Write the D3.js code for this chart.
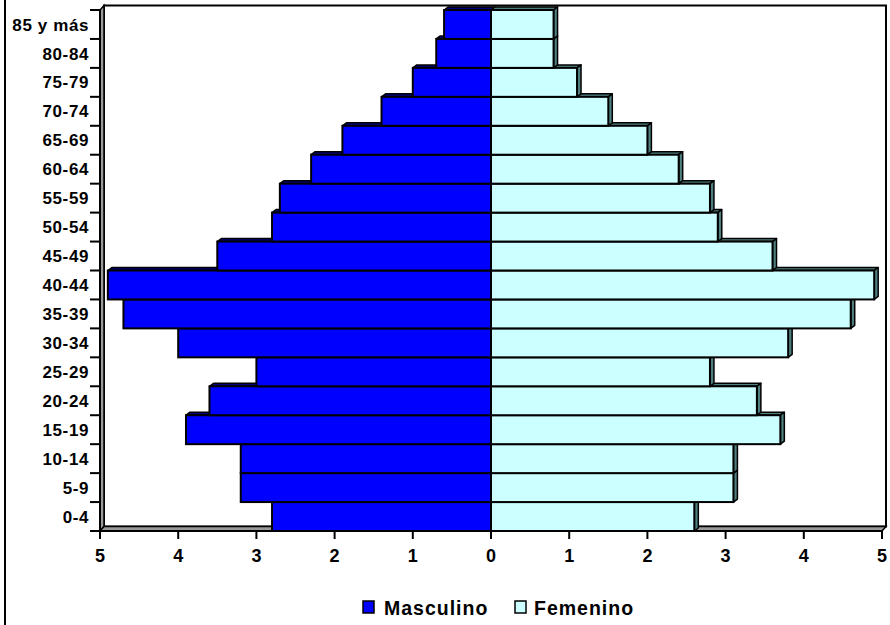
<!DOCTYPE html>
<html><head><meta charset="utf-8">
<script src="https://cdn.jsdelivr.net/npm/d3@7"></script>
<style>html,body{margin:0;padding:0;background:#fff;}svg{display:block;font-family:"Liberation Sans",Arial,sans-serif;font-weight:bold;}</style>
</head><body>
<svg id="c" width="890" height="625"></svg>
<script>
// Data (bottom to top)
const categories = ["0-4","5-9","10-14","15-19","20-24","25-29","30-34","35-39","40-44","45-49","50-54","55-59","60-64","65-69","70-74","75-79","80-84","85 y más"];
const masculino = [2.8,3.2,3.2,3.9,3.6,3.0,4.0,4.7,4.9,3.5,2.8,2.7,2.3,1.9,1.4,1.0,0.7,0.6];
const femenino  = [2.6,3.1,3.1,3.7,3.4,2.8,3.8,4.6,4.9,3.6,2.9,2.8,2.4,2.0,1.5,1.1,0.8,0.8];
const xTicks = [-5,-4,-3,-2,-1,0,1,2,3,4,5];
const seriesNames = ["Masculino","Femenino"];

const svg = d3.select("#c");
const L=100,R=882,T=10,B=531, WX=4, WY=4.5; // wall depth
const bdx=4, bdy=3; // bar depth
const x = d3.scaleLinear().domain([-5,5]).range([L,R]);
const y = d3.scaleBand().domain(categories.slice().reverse()).range([T,B]).paddingInner(0).paddingOuter(0);

// outer frame
svg.append("rect").attr("x",5).attr("y",-5).attr("width",900).attr("height",640).attr("fill","none").attr("stroke","#000").attr("stroke-width",2);

// back wall
svg.append("rect").attr("x",L+WX).attr("y",T-WY).attr("width",R-L).attr("height",B-T).attr("fill","#fff").attr("stroke","#000").attr("stroke-width",2);
// left wall strip
svg.append("path").attr("d",`M${L},${T}L${L+WX},${T-WY}L${L+WX},${B-WY}L${L},${B}Z`).attr("fill","#999").attr("stroke","#000").attr("stroke-width",1.5);
// floor strip
svg.append("path").attr("d",`M${L},${B}L${L+WX},${B-WY}L${R+WX},${B-WY}L${R},${B}Z`).attr("fill","#999").attr("stroke","#000").attr("stroke-width",1.5);

const colors = {m:"#0000ff", mTop:"#000080", f:"#ccffff", fSide:"#4f7f7f"};
const g = svg.append("g");
const x0 = x(0);
categories.forEach((c,i)=>{
  const yt = y(c), yb = y(c)+y.bandwidth();
  const xm = x(-masculino[i]);
  const xf = x(femenino[i]);
  g.append("path").attr("d",`M${xm},${yt}L${xm+bdx},${yt-bdy}L${x0+bdx},${yt-bdy}L${x0},${yt}Z`)
    .attr("fill",colors.mTop).attr("stroke","#000").attr("stroke-width",1.5).attr("stroke-linejoin","round");
  g.append("rect").attr("x",xm).attr("y",yt).attr("width",x0-xm).attr("height",yb-yt)
    .attr("fill",colors.m).attr("stroke","#000").attr("stroke-width",2);
  g.append("path").attr("d",`M${x0},${yt}L${x0+bdx},${yt-bdy}L${xf+bdx},${yt-bdy}L${xf},${yt}Z`)
    .attr("fill",colors.fSide).attr("stroke","#000").attr("stroke-width",1.5).attr("stroke-linejoin","round");
  g.append("path").attr("d",`M${xf},${yt}L${xf+bdx},${yt-bdy}L${xf+bdx},${yb-bdy}L${xf},${yb}Z`)
    .attr("fill",colors.fSide).attr("stroke","#000").attr("stroke-width",1.5).attr("stroke-linejoin","round");
  g.append("rect").attr("x",x0).attr("y",yt).attr("width",xf-x0).attr("height",yb-yt)
    .attr("fill",colors.f).attr("stroke","#000").attr("stroke-width",2);
});

// y axis
const yAxis = svg.append("g");
yAxis.append("line").attr("x1",L).attr("x2",L).attr("y1",T).attr("y2",B+1).attr("stroke","#000").attr("stroke-width",2);
const bounds = categories.map(c=>y(c)).concat([B]);
bounds.forEach(v=>{
  yAxis.append("line").attr("x1",L-10).attr("x2",L).attr("y1",v).attr("y2",v).attr("stroke","#000").attr("stroke-width",2);
});
categories.forEach(c=>{
  yAxis.append("text").attr("x",89).attr("y",y(c)+y.bandwidth()/2).attr("dy","0.36em")
    .attr("text-anchor","end").attr("font-size",17).attr("letter-spacing","0.6px").text(c);
});

// x axis
const xAxis = svg.append("g");
xAxis.append("line").attr("x1",L-1).attr("x2",R).attr("y1",B).attr("y2",B).attr("stroke","#000").attr("stroke-width",2);
xTicks.forEach(t=>{
  xAxis.append("line").attr("x1",x(t)).attr("x2",x(t)).attr("y1",B).attr("y2",B+8).attr("stroke","#000").attr("stroke-width",2);
  xAxis.append("text").attr("x",x(t)).attr("y",562).attr("text-anchor","middle").attr("font-size",18).text(Math.abs(t));
});

// legend
const leg = svg.append("g");
const legItems = [{n:seriesNames[0],c:colors.m,sx:363,tx:384},{n:seriesNames[1],c:colors.f,sx:515,tx:534}];
legItems.forEach(d=>{
  leg.append("rect").attr("x",d.sx).attr("y",601).attr("width",11).attr("height",12).attr("fill",d.c).attr("stroke","#000").attr("stroke-width",1.5);
  leg.append("text").attr("x",d.tx).attr("y",615).attr("font-size",19.5).attr("letter-spacing","1px").text(d.n);
});
</script>
</body></html>
